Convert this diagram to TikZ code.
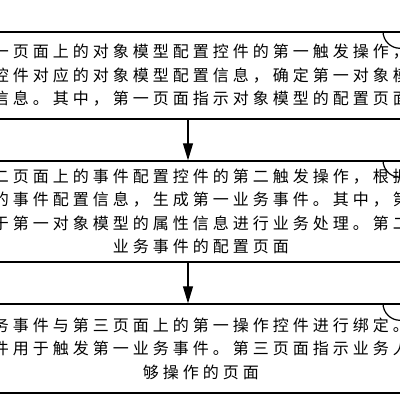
\documentclass[tikz,border=0pt]{standalone}
\usepackage{fontspec}
\newfontfamily\cjk{Noto Sans CJK SC}
\usetikzlibrary{arrows.meta}
\newlength\ls
\setlength\ls{4pt}
% spread the characters of one line
\def\spcaux#1#2{#1\ifx\relax#2\else\hspace{\ls}\expandafter\spcaux\expandafter#2\fi}
\newcommand\spc[1]{\spcaux#1\relax}
\tikzset{
  stepbox/.style = {draw, line width = 1.4pt, minimum width = 470pt, inner sep = 0pt, align = center, font = \cjk\fontsize{16}{23.5}\selectfont},
  flow/.style = {-{Triangle[length = 17pt, width = 10pt]}, line width = 1.2pt},
  lead/.style = {line width = 1.2pt}
}
\begin{document}
\begin{tikzpicture}[x = 1pt, y = -1pt]
\useasboundingbox (0, 0) rectangle (400, 400);
\clip (0, 0) rectangle (400, 400);
\node[stepbox, minimum height = 87pt] (b1) at (201, 75.5) {\spc{一页面上的对象模型配置控件的第一触发操作，}\\\spc{控件对应的对象模型配置信息，确定第一对象模}\\\spc{信息。其中，第一页面指示对象模型的配置页面}};
\node[stepbox, minimum height = 101pt] (b2) at (201, 211.5) {\spc{二页面上的事件配置控件的第二触发操作，根据}\\\spc{的事件配置信息，生成第一业务事件。其中，第}\\\spc{于第一对象模型的属性信息进行业务处理。第二}\\\spc{业务事件的配置页面}};
\node[stepbox, minimum height = 89pt] (b3) at (201, 348.5) {\spc{务事件与第三页面上的第一操作控件进行绑定。}\\\spc{件用于触发第一业务事件。第三页面指示业务人}\\\spc{够操作的页面}};
\coordinate (ax) at (188, 0);
\coordinate (lx) at (383, 0);
\draw[flow] (b1.south -| ax) -- (b2.north -| ax);
\draw[flow] (b2.south -| ax) -- (b3.north -| ax);
\draw[lead] (b1.north -| lx) arc[start angle = 180, end angle = 90, radius = 17];
\draw[lead] (b2.north -| lx) arc[start angle = 180, end angle = 90, radius = 17];
\draw[lead] (b3.north -| lx) arc[start angle = 180, end angle = 90, radius = 17];
\end{tikzpicture}
\end{document}
